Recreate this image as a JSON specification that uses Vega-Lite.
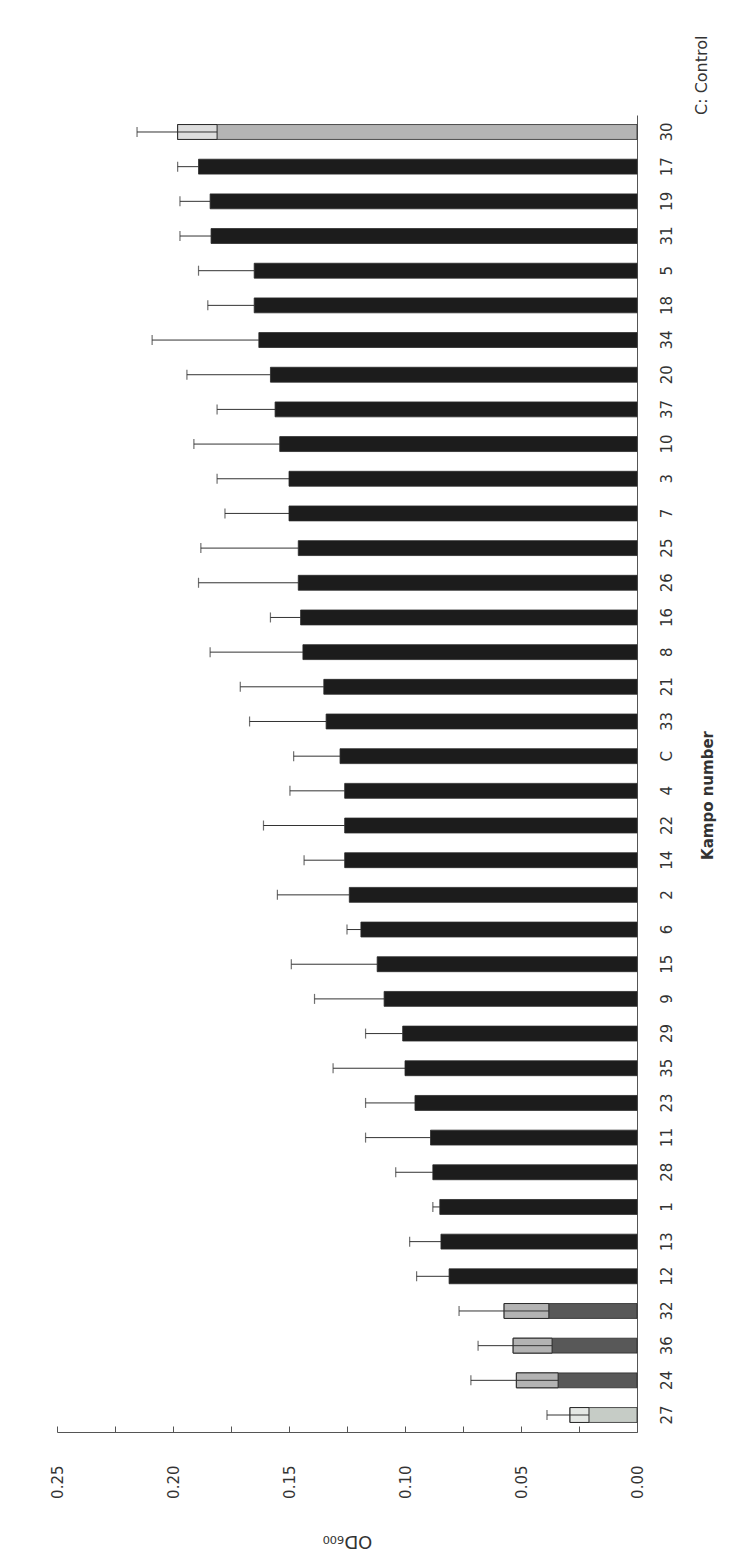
{
  "$schema": "https://vega.github.io/schema/vega-lite/v6.json",
  "autosize": "none",
  "width": 580,
  "height": 1317,
  "padding": {"left": 57, "top": 115, "right": 102, "bottom": 126},
  "background": "white",
  "title": {
    "text": "C: Control",
    "orient": "right",
    "anchor": "start",
    "frame": "group",
    "angle": -90,
    "align": "left",
    "baseline": "top",
    "offset": -37,
    "font": "DejaVu Sans",
    "fontSize": 16,
    "fontWeight": "normal",
    "color": "#333333"
  },
  "config": {
    "view": {"stroke": null},
    "font": "DejaVu Sans",
    "axis": {"grid": false, "domainColor": "#555555", "tickColor": "#555555", "labelColor": "#333333", "titleColor": "#333333"}
  },
  "data": {
    "values": [
      {"k": "30", "od": 0.198, "hi": 0.2155, "lo": 0.181, "type": "light"},
      {"k": "17", "od": 0.189, "hi": 0.198, "type": "dark"},
      {"k": "19", "od": 0.184, "hi": 0.197, "type": "dark"},
      {"k": "31", "od": 0.1836, "hi": 0.197, "type": "dark"},
      {"k": "5", "od": 0.165, "hi": 0.189, "type": "dark"},
      {"k": "18", "od": 0.165, "hi": 0.185, "type": "dark"},
      {"k": "34", "od": 0.163, "hi": 0.209, "type": "dark"},
      {"k": "20", "od": 0.158, "hi": 0.194, "type": "dark"},
      {"k": "37", "od": 0.156, "hi": 0.181, "type": "dark"},
      {"k": "10", "od": 0.154, "hi": 0.191, "type": "dark"},
      {"k": "3", "od": 0.150, "hi": 0.181, "type": "dark"},
      {"k": "7", "od": 0.150, "hi": 0.1776, "type": "dark"},
      {"k": "25", "od": 0.146, "hi": 0.188, "type": "dark"},
      {"k": "26", "od": 0.146, "hi": 0.189, "type": "dark"},
      {"k": "16", "od": 0.145, "hi": 0.158, "type": "dark"},
      {"k": "8", "od": 0.144, "hi": 0.184, "type": "dark"},
      {"k": "21", "od": 0.135, "hi": 0.171, "type": "dark"},
      {"k": "33", "od": 0.134, "hi": 0.167, "type": "dark"},
      {"k": "C", "od": 0.128, "hi": 0.148, "type": "dark"},
      {"k": "4", "od": 0.126, "hi": 0.1496, "type": "dark"},
      {"k": "22", "od": 0.126, "hi": 0.161, "type": "dark"},
      {"k": "14", "od": 0.126, "hi": 0.1435, "type": "dark"},
      {"k": "2", "od": 0.124, "hi": 0.155, "type": "dark"},
      {"k": "6", "od": 0.119, "hi": 0.125, "type": "dark"},
      {"k": "15", "od": 0.112, "hi": 0.149, "type": "dark"},
      {"k": "9", "od": 0.109, "hi": 0.139, "type": "dark"},
      {"k": "29", "od": 0.101, "hi": 0.117, "type": "dark"},
      {"k": "35", "od": 0.100, "hi": 0.131, "type": "dark"},
      {"k": "23", "od": 0.0957, "hi": 0.117, "type": "dark"},
      {"k": "11", "od": 0.089, "hi": 0.117, "type": "dark"},
      {"k": "28", "od": 0.088, "hi": 0.104, "type": "dark"},
      {"k": "1", "od": 0.085, "hi": 0.088, "type": "dark"},
      {"k": "13", "od": 0.0845, "hi": 0.098, "type": "dark"},
      {"k": "12", "od": 0.081, "hi": 0.095, "type": "dark"},
      {"k": "32", "od": 0.0573, "hi": 0.0767, "lo": 0.038, "type": "mid"},
      {"k": "36", "od": 0.0534, "hi": 0.0685, "lo": 0.0366, "type": "mid"},
      {"k": "24", "od": 0.052, "hi": 0.0716, "lo": 0.034, "type": "mid"},
      {"k": "27", "od": 0.0289, "hi": 0.0388, "lo": 0.0207, "type": "pale"}
    ]
  },
  "encoding": {
    "y": {
      "field": "k",
      "type": "nominal",
      "sort": null,
      "scale": {"paddingInner": 0.57, "paddingOuter": 0.275},
      "axis": {
        "orient": "right",
        "title": "Kampo number",
        "ticks": false,
        "domain": true,
        "labelAngle": -90,
        "labelAlign": "center",
        "labelBaseline": "top",
        "labelPadding": 22,
        "labelFontSize": 15,
        "titleAngle": -90,
        "titleAlign": "center",
        "titleBaseline": "middle",
        "titleX": 70,
        "titleY": 680,
        "titleFontSize": 15,
        "titleFontWeight": "bold"
      }
    }
  },
  "layer": [
    {
      "mark": {"type": "rule", "color": "#333333", "strokeWidth": 1},
      "encoding": {
        "x": {
          "field": "od",
          "type": "quantitative",
          "scale": {"domain": [0, 0.25], "reverse": true, "nice": false},
          "axis": {
            "orient": "bottom",
            "title": "OD₆₀₀",
            "values": [0, 0.025, 0.05, 0.075, 0.1, 0.125, 0.15, 0.175, 0.2, 0.225, 0.25],
            "labelExpr": "indexof(['0.00','0.05','0.10','0.15','0.20','0.25'], format(datum.value,'.2f')) >= 0 ? format(datum.value,'.2f') : ''",
            "labelOverlap": false,
            "tickSize": -6,
            "labelAngle": -90,
            "labelAlign": "right",
            "labelBaseline": "middle",
            "labelPadding": 39,
            "labelFontSize": 15,
            "titleAngle": 180,
            "titleAlign": "center",
            "titleBaseline": "middle",
            "titleX": 290,
            "titleY": 108,
            "titleFontSize": 18,
            "titleFontWeight": "normal"
          }
        },
        "x2": {"field": "hi"}
      }
    },
    {
      "mark": {"type": "tick", "color": "#333333", "thickness": 1.2, "size": 10, "orient": "vertical"},
      "encoding": {"x": {"field": "hi", "type": "quantitative"}}
    },
    {
      "mark": {"type": "bar", "stroke": "#2a2a2a", "strokeWidth": 0.8},
      "encoding": {
        "x": {"field": "od", "type": "quantitative"},
        "x2": {"datum": 0},
        "color": {
          "field": "type",
          "type": "nominal",
          "scale": {"domain": ["dark", "light", "mid", "pale"], "range": ["#1c1c1c", "#b4b4b4", "#585858", "#c6ccc6"]},
          "legend": null
        }
      }
    },
    {
      "transform": [{"filter": "isValid(datum.lo)"}],
      "mark": {"type": "bar", "fill": "#ffffff", "fillOpacity": 0.55, "stroke": "#2a2a2a", "strokeWidth": 1},
      "encoding": {
        "x": {"field": "lo", "type": "quantitative"},
        "x2": {"field": "od"}
      }
    },
    {
      "transform": [{"filter": "isValid(datum.lo)"}],
      "mark": {"type": "rule", "color": "#333333", "strokeWidth": 1},
      "encoding": {
        "x": {"field": "lo", "type": "quantitative"},
        "x2": {"field": "od"}
      }
    }
  ]
}
